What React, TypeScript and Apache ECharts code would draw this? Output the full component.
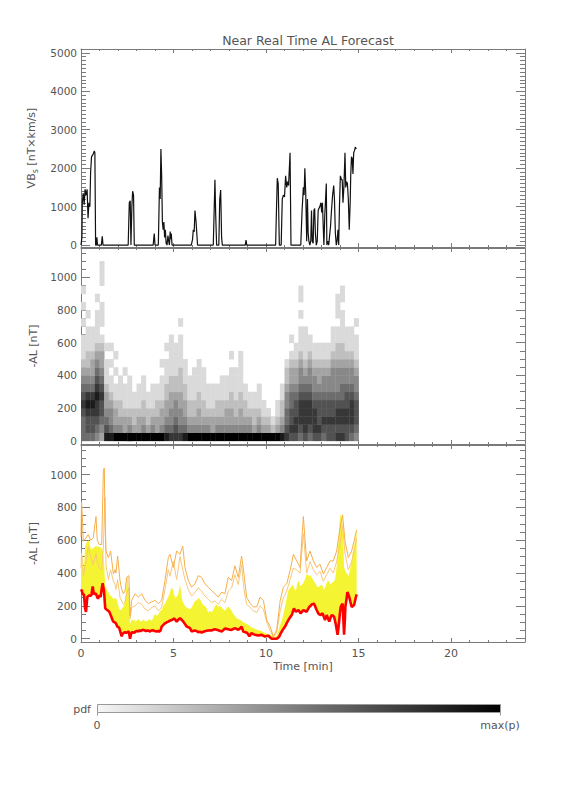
import React, { useEffect, useRef } from "react";
import * as echarts from "echarts";

// ---------- tick labels ----------
const timeTicks = [0, 5, 10, 15, 20];
const timeMinorTicks = [0, 1, 2, 3, 4, 5, 6, 7, 8, 9, 10, 11, 12, 13, 14, 15, 16, 17, 18, 19, 20, 21, 22, 23, 24];
const vbsTicks = [0, 1000, 2000, 3000, 4000, 5000];
const alTicks = [0, 200, 400, 600, 800, 1000];

// ---------- panel 1 : VBs ----------
const vbsTime = [0.00,0.05,0.07,0.12,0.17,0.22,0.28,0.33,0.38,0.43,0.48,0.52,0.57,0.62,0.67,0.72,0.75,0.79,0.83,0.86,0.89,1.10,1.15,1.19,
  2.55,2.61,2.66,2.70,2.75,2.79,2.84,2.88,
  3.90,3.96,4.00,4.18,4.24,4.28,4.32,4.36,4.40,4.44,4.48,4.52,4.56,4.60,4.65,4.70,4.74,4.78,4.82,4.85,4.88,4.92,
  5.96,6.03,6.07,6.12,6.16,6.22,6.30,
  7.15,7.24,7.28,7.33,7.45,7.50,7.55,7.60,7.64,
  8.88,8.92,8.96,
  10.52,10.56,10.61,10.66,10.72,10.82,10.88,10.94,11.00,11.06,11.12,11.17,11.22,11.30,11.35,
  11.88,11.95,12.02,12.06,12.10,12.15,12.20,12.24,12.28,12.32,12.37,12.42,12.46,12.50,12.55,12.59,12.63,12.67,12.72,12.77,
  12.82,12.86,12.91,12.97,13.01,13.05,13.10,13.13,13.18,13.22,13.26,13.29,13.34,13.39,13.44,13.49,13.54,13.60,13.66,13.70,
  13.75,13.80,13.84,13.89,13.93,13.97,14.02,14.08,14.12,14.16,14.21,14.27,14.31,14.36,14.40,14.45,14.50,14.55,14.58,14.62,
  14.66,14.70,14.74,14.78,14.83,14.88];
const vbsValue = [0,200,1100,1350,1050,1450,1300,1450,700,1100,1000,1900,2300,2330,2380,2450,2400,0,0,200,0,0,230,0,
  0,1100,1150,0,1000,1400,1300,0,
  0,300,0,0,1500,1200,2500,1800,600,400,600,200,400,50,0,250,100,0,350,150,300,0,
  0,150,400,350,900,600,0,
  0,1700,800,0,0,1200,1430,200,0,
  0,130,0,
  0,800,1740,1600,0,0,1200,1300,1250,1800,1500,1650,1550,2400,0,
  0,900,1500,1300,2000,1300,100,1200,300,100,0,100,900,100,50,900,950,300,0,100,
  900,950,1000,1100,850,1100,400,0,800,1200,1600,0,100,0,250,500,900,1300,1550,1200,
  300,0,100,400,0,1000,1800,1700,1700,1100,1500,2400,1500,1650,1600,1200,400,1100,1800,2300,
  2250,1850,2400,2450,2550,2500];

// ---------- panel 2 : pdf of -AL (columns of 0.25 min, rows of 50 nT, darkness 0-9 from the bottom up) ----------
const pdfTimeStep = 0.25;
const pdfValueStep = 50;
const pdfColumns = [
  "5556765432111010101000","5667875432211101000000","5667875433211100000000","4567787654321111010000",
  "3456676543321011100111","8654332111010000000000","8544321101010000000000","9433211010100000000000",
  "9432211100000000000000","9332111010000000000000","9432111100000000000000","9322110000000000000000",
  "9332111000000000000000","9432211100000000000000","9322110000000000000000","9432111000000000000000",
  "9332211000000000000000","9433211101000000000000","8543322111010000000000","7544332211111000000000",
  "7654432211110000000000","7544332221111010000000","8543322111000000000000","9432211100000000000000",
  "9432211110000000000000","9433221111000000000000","9432211110000000000000","9432111000000000000000",
  "9332111000000000000000","9432211000000000000000","9432211100000000000000","9433211100000000000000",
  "9433221110100000000000","9432211110000000000000","9433221111100000000000","9432211000000000000000",
  "9432110000000000000000","9322110000000000000000","9432111000000000000000","9321100000000000000000",
  "9321000000000000000000","9210000000000000000000","9321100000000000000000","8432211000000000000000",
  "7655443221000000000000","6766554332101000000000","6776654332110000000000","5677765443211101011000",
  "6777765432111100000000","5677765443211000000000","6777654432110000000000","6766654332110000000000",
  "5676654432110000000000","6676654432110000000000","6676654443211100000000","7677654443221101110000",
  "7677655443221111011000","6677665443211100000000","5677765443211100000000","4566654432111010000000",
];

// ---------- panel 3 : -AL forecast ----------
const bandTime = [0.00,0.05,0.10,0.16,0.22,0.27,0.34,0.40,0.45,0.50,0.56,0.63,0.70,0.75,0.81,0.87,0.92,0.99,1.06,1.12,
  1.17,1.24,1.31,1.36,1.42,1.48,1.53,1.58,1.64,1.70,1.75,1.80,1.86,1.92,1.96,2.02,2.07,2.13,2.20,2.25,
  2.29,2.34,2.38,2.44,2.47,2.52,2.58,2.62,2.65,2.69,2.74,2.80,2.88,2.95,3.01,3.08,3.15,3.22,3.30,3.37,
  3.45,3.52,3.60,3.66,3.73,3.80,3.88,3.95,4.02,4.09,4.16,4.22,4.30,4.36,4.45,4.54,4.63,4.72,4.80,4.90,
  4.97,5.03,5.10,5.17,5.25,5.35,5.42,5.48,5.53,5.62,5.71,5.80,5.89,5.98,6.07,6.16,6.25,6.34,6.43,6.52,
  6.61,6.70,6.79,6.88,6.97,7.06,7.15,7.24,7.33,7.42,7.51,7.60,7.69,7.78,7.87,7.96,8.05,8.14,8.23,8.32,
  8.41,8.50,8.59,8.68,8.77,8.86,8.95,9.02,9.10,9.16,9.22,9.30,9.41,9.50,9.59,9.68,9.77,9.86,9.95,10.04,
  10.13,10.22,10.31,10.43,10.50,10.58,10.65,10.72,10.78,10.85,10.94,11.03,11.12,11.21,11.30,11.39,11.45,11.51,11.57,11.62,
  11.68,11.75,11.81,11.87,11.95,12.02,12.10,12.20,12.27,12.34,12.41,12.48,12.54,12.59,12.65,12.70,12.76,12.83,12.89,12.95,
  13.00,13.06,13.12,13.19,13.24,13.28,13.35,13.42,13.48,13.55,13.62,13.68,13.73,13.78,13.83,13.87,13.92,13.96,14.00,14.04,
  14.09,14.14,14.18,14.22,14.26,14.29,14.35,14.40,14.45,14.50,14.56,14.63,14.70,14.76,14.81,14.86,14.90];
const medianAL = [300,290,270,270,184,164,254,260,264,262,264,318,270,275,274,255,244,264,254,304,
  338,294,184,180,174,170,164,150,134,115,104,100,98,85,74,70,64,40,14,30,
  34,38,40,36,38,40,44,20,0,20,38,40,35,45,48,44,50,46,52,54,
  50,46,50,48,44,50,52,48,46,44,48,42,50,74,84,94,100,104,110,114,
  118,124,115,104,115,124,118,110,104,90,74,70,64,44,48,50,46,40,42,38,
  42,45,48,50,52,50,55,58,55,52,48,44,52,62,60,58,55,54,60,64,
  60,54,62,74,44,40,38,30,14,25,34,28,24,22,20,22,24,18,14,16,
  18,8,0,0,0,0,5,14,30,44,60,74,95,114,130,144,165,184,172,164,
  170,174,165,154,165,174,170,164,180,194,200,210,212,214,200,184,170,154,148,144,
  150,154,135,114,130,144,125,104,125,144,140,134,110,84,50,24,70,114,160,194,
  205,214,120,24,110,194,240,284,270,254,225,194,200,204,230,254,270];
const upperAL = [560,480,440,430,560,580,590,600,590,560,540,550,555,560,565,560,562,560,555,550,
  540,480,320,310,290,285,270,265,260,250,240,245,250,240,230,200,180,175,180,190,
  195,210,240,300,370,380,300,140,90,100,120,110,115,105,110,120,115,105,110,115,
  110,105,110,120,115,110,120,140,150,140,145,160,170,175,200,215,235,255,280,314,
  300,270,250,255,270,330,280,230,220,200,190,185,180,190,210,230,235,250,240,220,
  205,200,185,160,170,160,175,200,210,195,200,190,180,170,185,195,185,170,150,140,
  125,120,115,110,100,95,90,85,80,75,70,65,60,55,52,50,45,40,35,30,
  28,25,20,12,10,20,40,70,90,110,150,194,250,294,310,320,330,310,300,290,
  330,355,340,320,330,340,360,394,390,380,385,370,360,350,340,330,320,314,320,325,
  330,320,300,310,330,340,354,345,330,340,345,350,360,400,450,530,600,680,734,760,
  740,700,600,434,420,410,400,394,380,400,430,480,534,560,600,634,660];
const envTime = [0.00,0.03,0.09,0.12,0.27,0.39,0.52,0.66,0.81,0.88,0.99,1.12,1.21,1.26,1.30,1.35,1.48,1.60,1.75,1.84,
  1.89,1.98,2.11,2.20,2.29,2.38,2.47,2.59,2.65,2.74,2.92,3.10,3.28,3.46,3.64,3.82,4.00,4.18,4.36,4.54,
  4.72,4.81,4.99,5.17,5.35,5.50,5.62,5.80,5.98,6.16,6.34,6.52,6.70,6.88,7.06,7.24,7.42,7.60,7.78,7.96,
  8.14,8.32,8.50,8.68,8.81,8.95,9.14,9.32,9.50,9.68,9.86,10.04,10.22,10.40,10.58,10.77,10.94,11.12,11.30,11.48,
  11.66,11.84,12.02,12.11,12.20,12.38,12.56,12.74,12.92,13.10,13.28,13.46,13.64,13.82,14.00,14.14,14.27,14.45,14.63,14.76,14.90];
const maxAL = [620,834,700,594,614,634,600,614,744,600,574,574,1024,1040,700,534,494,534,394,420,
  400,504,354,300,274,290,374,384,140,234,274,254,274,234,214,224,234,214,234,354,
  494,514,434,534,514,564,434,354,314,334,384,374,334,314,294,274,254,284,274,374,
  354,444,374,504,394,254,214,194,194,254,234,114,74,14,54,234,314,334,414,514,
  474,434,744,600,474,534,474,434,454,394,434,474,474,534,674,754,594,494,534,594,664];
const memberAL = [430,520,480,380,470,560,500,450,520,470,430,420,560,760,860,450,360,420,350,330,
  300,360,250,230,210,220,280,310,120,190,200,220,210,180,170,190,200,170,190,300,
  420,380,470,360,500,420,360,300,260,280,310,290,260,240,220,230,210,240,220,290,
  310,390,330,450,300,210,190,170,160,200,180,100,50,10,40,170,250,290,360,430,
  420,400,640,520,400,470,420,390,410,350,390,430,400,470,580,690,520,420,470,530,610];

// ---------- styling ----------
const AX = "#7a7a7a";
const TXT = "#555555";
const FONT = '"DejaVu Sans", sans-serif';
const YELLOW = "#f4f433";
const ORANGE = "#f7ae48";
const ORANGE_LIGHT = "#f9c77a";
const RED = "#ff0000";

const grey = (k: number) => {
  const g = Math.max(0, Math.round(245 - k * 27.2));
  return `rgb(${g},${g},${g})`;
};

const pairs = (xs: number[], ys: number[]) => {
  const n = Math.min(xs.length, ys.length);
  const out: number[][] = [];
  for (let i = 0; i < n; i++) out.push([xs[i], ys[i]]);
  return out;
};

const minorValues = (min: number, max: number, step: number) => {
  const out: number[] = [];
  for (let v = min; v <= max + 1e-9; v += step) out.push(Math.round(v * 1000) / 1000);
  return out;
};

const plain = (v: number) => String(v);

function xAxesFor(grid: number, showLabels: boolean) {
  const base: any = {
    type: "value", gridIndex: grid, min: 0, max: 24,
    splitLine: { show: false },
  };
  const lineStyle = { color: AX, width: 1 };
  return [
    {
      ...base, position: "bottom",
      axisLine: { show: true, onZero: false, lineStyle },
      axisTick: { show: true, inside: true, length: 4, customValues: timeTicks, lineStyle },
      axisLabel: { show: showLabels, customValues: timeTicks, formatter: plain, color: TXT, fontFamily: FONT, fontSize: 11, margin: 6 },
      name: showLabels ? "Time [min]" : "",
      nameLocation: "middle", nameGap: 19,
      nameTextStyle: { color: TXT, fontFamily: FONT, fontSize: 11 },
    },
    {
      ...base, position: "bottom",
      axisLine: { show: false, onZero: false },
      axisTick: { show: true, inside: true, length: 2, customValues: timeMinorTicks, lineStyle },
      axisLabel: { show: false },
    },
    {
      ...base, position: "top",
      axisLine: { show: true, onZero: false, lineStyle },
      axisTick: { show: true, inside: true, length: 4, customValues: timeTicks, lineStyle },
      axisLabel: { show: false },
    },
    {
      ...base, position: "top",
      axisLine: { show: false, onZero: false },
      axisTick: { show: true, inside: true, length: 2, customValues: timeMinorTicks, lineStyle },
      axisLabel: { show: false },
    },
  ];
}

function yAxesFor(grid: number, min: number, max: number, major: number[], minor: number[], name: string, rich?: any) {
  const base: any = { type: "value", gridIndex: grid, min, max, splitLine: { show: false } };
  const lineStyle = { color: AX, width: 1 };
  return [
    {
      ...base, position: "left",
      axisLine: { show: true, onZero: false, lineStyle },
      axisTick: { show: true, inside: true, length: 9, customValues: major, lineStyle },
      axisLabel: { show: true, customValues: major, formatter: plain, color: TXT, fontFamily: FONT, fontSize: 10.5, margin: 4 },
      name, nameLocation: "middle", nameGap: 33,
      nameTextStyle: { color: TXT, fontFamily: FONT, fontSize: 11, rich },
    },
    {
      ...base, position: "left",
      axisLine: { show: false, onZero: false },
      axisTick: { show: true, inside: true, length: 5, customValues: minor, lineStyle },
      axisLabel: { show: false },
    },
    {
      ...base, position: "right",
      axisLine: { show: true, onZero: false, lineStyle },
      axisTick: { show: true, inside: true, length: 9, customValues: major, lineStyle },
      axisLabel: { show: false },
    },
    {
      ...base, position: "right",
      axisLine: { show: false, onZero: false },
      axisTick: { show: true, inside: true, length: 5, customValues: minor, lineStyle },
      axisLabel: { show: false },
    },
  ];
}

export default function App() {
  const ref = useRef<HTMLDivElement>(null);

  useEffect(() => {
    if (!ref.current) return;
    const chart = echarts.init(ref.current, undefined, { renderer: "svg" });

    const pdfCells: number[][] = [];
    pdfColumns.forEach((col, c) => {
      for (let r = 0; r < col.length; r++) {
        const k = Number(col[r]);
        if (k > 0) pdfCells.push([c * pdfTimeStep, r * pdfValueStep, k]);
      }
    });

    const vbsRich = {
      a: { fontSize: 11, fontFamily: FONT, color: TXT, lineHeight: 15 },
      s: { fontSize: 8, fontFamily: FONT, color: TXT, lineHeight: 15, verticalAlign: "bottom" },
    };

    const option: any = {
      animation: false,
      backgroundColor: "#ffffff",
      title: {
        text: "Near Real Time AL Forecast",
        left: 303, top: 29, textAlign: "center",
        textStyle: { color: TXT, fontFamily: FONT, fontSize: 12.5, fontWeight: "normal" },
      },
      grid: [
        { left: 81, top: 49, width: 444, height: 198 },
        { left: 81, top: 248, width: 444, height: 196 },
        { left: 81, top: 445, width: 444, height: 197 },
      ],
      xAxis: [...xAxesFor(0, false), ...xAxesFor(1, false), ...xAxesFor(2, true)],
      yAxis: [
        ...yAxesFor(0, -50, 5100, vbsTicks, minorValues(0, 5000, 100), "{a|VB}{s|s}{a| [nT×km/s]}", vbsRich),
        ...yAxesFor(1, -20, 1180, alTicks, minorValues(0, 1150, 50), "-AL [nT]"),
        ...yAxesFor(2, -20, 1180, alTicks, minorValues(0, 1150, 50), "-AL [nT]"),
      ],
      series: [
        {
          type: "line", xAxisIndex: 0, yAxisIndex: 0,
          data: pairs(vbsTime, vbsValue),
          showSymbol: false, symbol: "none",
          lineStyle: { color: "#111111", width: 1.2 },
          silent: true,
        },
        {
          type: "custom", xAxisIndex: 4, yAxisIndex: 4, silent: true, clip: true,
          data: pdfCells,
          encode: { x: 0, y: 1 },
          renderItem: (_p: any, api: any) => {
            const t0 = api.value(0) as number;
            const v0 = api.value(1) as number;
            const k = api.value(2) as number;
            const a = api.coord([t0, v0]);
            const b = api.coord([t0 + pdfTimeStep, v0 + pdfValueStep]);
            return {
              type: "rect",
              shape: { x: a[0], y: b[1], width: b[0] - a[0] + 0.4, height: a[1] - b[1] + 0.4 },
              style: { fill: grey(k) },
            };
          },
        },
        {
          type: "custom", xAxisIndex: 8, yAxisIndex: 8, silent: true, clip: true,
          data: [[bandTime[0], medianAL[0]]],
          encode: { x: 0, y: 1 },
          renderItem: (_p: any, api: any) => {
            const n = Math.min(bandTime.length, medianAL.length, upperAL.length);
            const pts: number[][] = [];
            for (let i = 0; i < n; i++) pts.push(api.coord([bandTime[i], upperAL[i]]));
            for (let i = n - 1; i >= 0; i--) pts.push(api.coord([bandTime[i], medianAL[i]]));
            return { type: "polygon", shape: { points: pts }, style: { fill: YELLOW } };
          },
        },
        {
          type: "line", xAxisIndex: 8, yAxisIndex: 8,
          data: pairs(envTime, memberAL),
          showSymbol: false, symbol: "none",
          lineStyle: { color: ORANGE_LIGHT, width: 1 },
          silent: true,
        },
        {
          type: "line", xAxisIndex: 8, yAxisIndex: 8,
          data: pairs(envTime, maxAL),
          showSymbol: false, symbol: "none",
          lineStyle: { color: ORANGE, width: 1 },
          silent: true,
        },
        {
          type: "line", xAxisIndex: 8, yAxisIndex: 8,
          data: pairs(bandTime, medianAL),
          showSymbol: false, symbol: "none",
          lineStyle: { color: RED, width: 2.6 },
          silent: true,
        },
      ],
      graphic: [
        {
          type: "rect", silent: true,
          shape: { x: 97.5, y: 704.5, width: 403, height: 8 },
          style: {
            fill: new echarts.graphic.LinearGradient(0, 0, 1, 0, [
              { offset: 0, color: "#f6f6f6" },
              { offset: 1, color: "#000000" },
            ]),
            stroke: "#999999", lineWidth: 1,
          },
        },
        { type: "line", silent: true, shape: { x1: 97.5, y1: 712.5, x2: 97.5, y2: 715.5 }, style: { stroke: "#999999", lineWidth: 1 } },
        { type: "line", silent: true, shape: { x1: 500.5, y1: 712.5, x2: 500.5, y2: 715.5 }, style: { stroke: "#999999", lineWidth: 1 } },
        { type: "text", silent: true, x: 91, y: 709, style: { text: "pdf", fontSize: 11, fontFamily: FONT, fill: TXT, align: "right", verticalAlign: "middle" } },
        { type: "text", silent: true, x: 97, y: 725, style: { text: "0", fontSize: 11, fontFamily: FONT, fill: TXT, align: "center", verticalAlign: "middle" } },
        { type: "text", silent: true, x: 500, y: 725, style: { text: "max(p)", fontSize: 11, fontFamily: FONT, fill: TXT, align: "center", verticalAlign: "middle" } },
      ],
    };

    chart.setOption(option);
    return () => chart.dispose();
  }, []);

  return (
    <div
      ref={ref}
      style={{ position: "absolute", left: 0, top: 0, width: 576, height: 792, background: "#ffffff" }}
    />
  );
}
